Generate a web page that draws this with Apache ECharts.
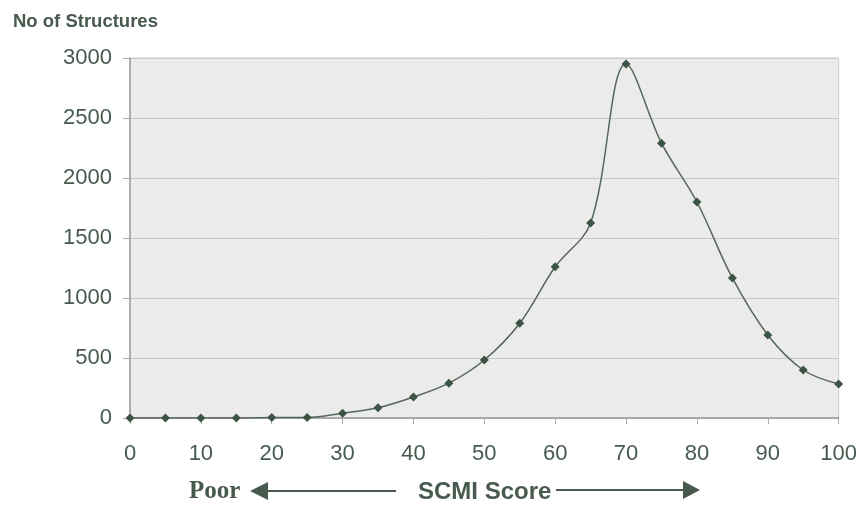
<!DOCTYPE html>
<html><head><meta charset="utf-8">
<script src="https://cdn.jsdelivr.net/npm/echarts@6/dist/echarts.min.js"></script>
<style>html,body{margin:0;padding:0;background:#fff}#c{width:860px;height:506px}</style>
</head><body><div id="c"></div>
<script>
const scores = [0,5,10,15,20,25,30,35,40,45,50,55,60,65,70,75,80,85,90,95,100];
const structures = [0,0,0,0,5,5,40,85,175,290,483,790,1260,1625,2950,2290,1800,1167,692,400,283];
const yTicks = [0,500,1000,1500,2000,2500,3000];
const xTicks = [0,10,20,30,40,50,60,70,80,90,100];
const txt = '#475a4d';
const chart = echarts.init(document.getElementById('c'));
chart.setOption({
  animation:false,
  title:{text:'No of Structures',left:8,top:7,textStyle:{fontFamily:'Liberation Sans, Arial',fontSize:18.5,fontWeight:'bold',color:txt}},
  grid:{left:130,right:21,top:58,bottom:88,show:true,backgroundColor:'#ebebeb',borderColor:'#cfcfcf',borderWidth:1},
  xAxis:{type:'value',min:xTicks[0],max:xTicks[xTicks.length-1],interval:10,
    axisLine:{show:true,onZero:false,lineStyle:{color:'#9a9a9a',width:1.5}},
    axisTick:{show:true,length:6,lineStyle:{color:'#aaaaaa'}},
    axisLabel:{fontFamily:'Liberation Sans, Arial',fontSize:22,color:txt,margin:25},
    splitLine:{show:false}},
  yAxis:{type:'value',min:yTicks[0],max:yTicks[yTicks.length-1],interval:500,
    axisLine:{show:true,lineStyle:{color:'#9a9a9a',width:1.5}},
    axisTick:{show:true,length:7,lineStyle:{color:'#aaaaaa'}},
    axisLabel:{fontFamily:'Liberation Sans, Arial',fontSize:22,color:txt,margin:18,formatter:v=>String(v)},
    splitLine:{show:true,lineStyle:{color:'#c8c8c8',width:1}}},
  series:[{type:'line',smooth:0.35,data:scores.map((s,i)=>[s,structures[i]]),
    symbol:'diamond',symbolSize:9,lineStyle:{color:'#55665a',width:1.5},
    itemStyle:{color:'#3b5444'}}],
  graphic:[
    {type:'text',left:189,top:479,style:{text:'Poor',font:'bold 25px "Liberation Serif", "Times New Roman", serif',fill:txt}},
    {type:'polygon',shape:{points:[[250,491],[268,482],[268,500]]},style:{fill:txt}},
    {type:'line',shape:{x1:266,y1:491,x2:396,y2:491},style:{stroke:txt,lineWidth:2}},
    {type:'text',left:418,top:480,style:{text:'SCMI Score',font:'bold 24px "Liberation Sans", Arial, sans-serif',fill:txt}},
    {type:'line',shape:{x1:556,y1:490,x2:685,y2:490},style:{stroke:txt,lineWidth:2}},
    {type:'polygon',shape:{points:[[700,490],[683,481],[683,499]]},style:{fill:txt}}
  ]
});
</script></body></html>
